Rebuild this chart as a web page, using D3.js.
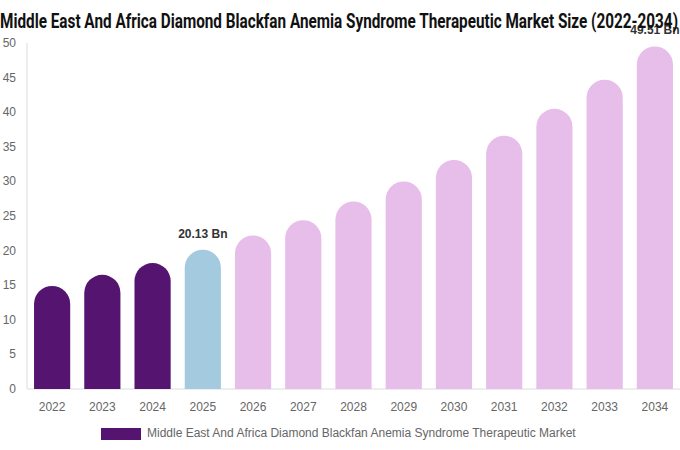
<!DOCTYPE html>
<html>
<head>
<meta charset="utf-8">
<script src="https://cdn.jsdelivr.net/npm/d3@7"></script>
<style>
  body { margin: 0; background: #fff; }
  svg { display: block; font-family: "Liberation Sans", Arial, sans-serif; }
</style>
</head>
<body>
<svg id="chart" width="680" height="450"></svg>
<script>
let years = ['2022','2023','2024','2025','2026','2027','2028','2029','2030','2031','2032','2033','2034']
let values = [14.9, 16.5, 18.2, 20.13, 22.2, 24.4, 27.1, 30.0, 33.1, 36.6, 40.5, 44.7, 49.51]
let yTicks = [0, 5, 10, 15, 20, 25, 30, 35, 40, 45, 50]
let labelled = ['2025', '2034']
let seriesName = 'Middle East And Africa Diamond Blackfan Anemia Syndrome Therapeutic Market'
let title = 'Middle East And Africa Diamond Blackfan Anemia Syndrome Therapeutic Market Size (2022-2034)'

let colorFor = (yr) => {
    if (+yr < 2025) return '#541470'
    if (+yr === 2025) return '#a4cadf'
    return '#e7bde9'
}

let width = 680
let height = 450
let plotLeft = 27
let plotBottom = 389
let plotTop = 43

let svg = d3.select('#chart')

let x = d3.scaleBand()
    .domain(years)
    .range([plotLeft, width])
    .paddingInner(0.28)
    .paddingOuter(0.14)

let y = d3.scaleLinear()
    .domain([0, 50])
    .range([plotBottom, plotTop])

// axes lines
svg.append('line')
    .attr('x1', plotLeft).attr('x2', plotLeft)
    .attr('y1', plotTop).attr('y2', plotBottom)
    .attr('stroke', '#dcdcdc')

svg.append('line')
    .attr('x1', plotLeft).attr('x2', width)
    .attr('y1', plotBottom).attr('y2', plotBottom)
    .attr('stroke', '#dcdcdc')

svg.selectAll('.ytick')
    .data(yTicks)
    .enter()
    .append('text')
    .attr('class', 'ytick')
    .attr('x', 16)
    .attr('y', (d) => y(d) + 4)
    .attr('text-anchor', 'end')
    .attr('font-size', 12)
    .attr('fill', '#666')
    .text((d) => d)

svg.selectAll('.xtick')
    .data(years)
    .enter()
    .append('text')
    .attr('class', 'xtick')
    .attr('x', (d) => x(d) + x.bandwidth() / 2)
    .attr('y', 411)
    .attr('text-anchor', 'middle')
    .attr('font-size', 12)
    .attr('fill', '#666')
    .text((d) => d)

// bars with round tops
let barPath = (d, i) => {
    let x0 = x(d)
    let w = x.bandwidth()
    let r = w / 2
    let yt = y(values[i])
    return 'M' + x0 + ',' + plotBottom +
        'V' + (yt + r) +
        'A' + r + ',' + r + ' 0 0 1 ' + (x0 + w) + ',' + (yt + r) +
        'V' + plotBottom + 'Z'
}

svg.selectAll('.bar')
    .data(years)
    .enter()
    .append('path')
    .attr('class', 'bar')
    .attr('d', barPath)
    .attr('fill', (d) => colorFor(d))

svg.selectAll('.vlabel')
    .data(labelled)
    .enter()
    .append('text')
    .attr('class', 'vlabel')
    .attr('x', (d) => x(d) + x.bandwidth() / 2)
    .attr('y', (d) => y(values[years.indexOf(d)]) - 12)
    .attr('text-anchor', 'middle')
    .attr('font-size', 12)
    .attr('font-weight', 'bold')
    .attr('fill', '#333')
    .text((d) => values[years.indexOf(d)].toFixed(2) + ' Bn')

// title
svg.append('text')
    .attr('x', 0)
    .attr('y', 28)
    .attr('font-family', '"Liberation Sans Narrow", "Roboto", sans-serif')
    .attr('font-size', 20)
    .attr('font-weight', 'bold')
    .attr('fill', '#111')
    .attr('textLength', 678)
    .attr('lengthAdjust', 'spacingAndGlyphs')
    .text(title)

// legend
svg.append('rect')
    .attr('x', 101)
    .attr('y', 428)
    .attr('width', 40)
    .attr('height', 12)
    .attr('fill', colorFor('2022'))

svg.append('text')
    .attr('x', 147)
    .attr('y', 437)
    .attr('font-size', 12)
    .attr('fill', '#666')
    .text(seriesName)
</script>
</body>
</html>
